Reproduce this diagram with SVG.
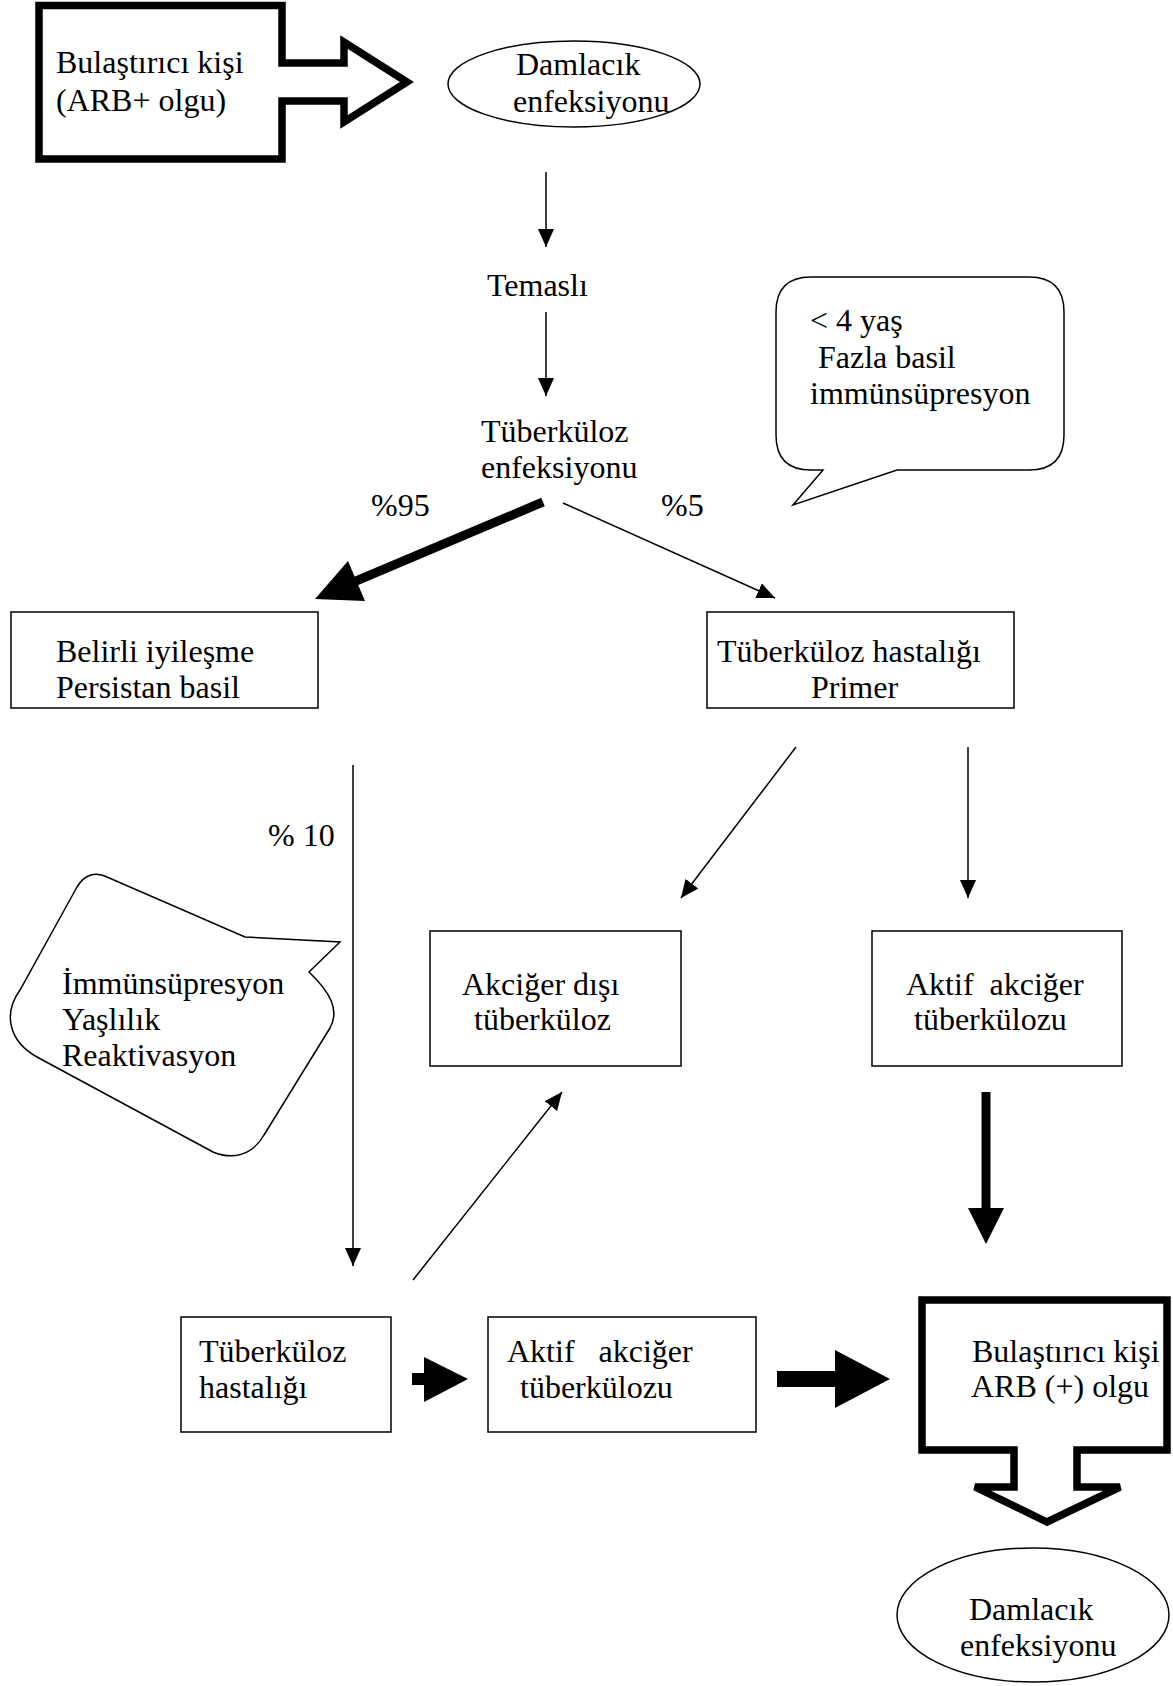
<svg xmlns="http://www.w3.org/2000/svg" width="1173" height="1686" viewBox="0 0 1173 1686">
<style>
text{font-family:"Liberation Serif","Times New Roman",serif;font-size:32px;fill:#000;white-space:pre}
.box{fill:#fff;stroke:#000;stroke-width:1.5}
.thick{fill:#fff;stroke:#000;stroke-width:7.5;stroke-linejoin:miter}
.ln{stroke:#000;stroke-width:1.5;fill:none}
.blk{fill:#000;stroke:none}
</style>
<defs>
<marker id="ah" markerWidth="18" markerHeight="16" refX="18" refY="8" orient="auto" markerUnits="userSpaceOnUse"><path d="M0,0 L18,8 L0,16 Z" fill="#000"/></marker>
</defs>
<rect width="1173" height="1686" fill="#fff"/>

<g id="n-bulastirici-top">
<path class="thick" d="M39,5.5 H282 V63 H344 V42 L407,82 L344,122 V101 H282 V159 H39 Z"/>
<text x="56" y="73">Bulaştırıcı kişi</text>
<text x="56" y="111">(ARB+ olgu)</text>
</g>

<g id="n-damlacik-top">
<ellipse class="box" cx="574" cy="84" rx="126" ry="43"/>
<text x="516" y="75">Damlacık</text>
<text x="513" y="112">enfeksiyonu</text>
</g>

<g id="n-temasli"><text x="487" y="296">Temaslı</text></g>

<g id="n-tb-enfeksiyonu">
<text x="481" y="442">Tüberküloz</text>
<text x="481" y="478">enfeksiyonu</text>
</g>

<g id="n-callout-risk">
<path class="box" d="M811,277 H1029 Q1064,277 1064,312 V435 Q1064,470 1029,470 H897 L793,505 L823,470 H811 Q776,470 776,435 V312 Q776,277 811,277 Z"/>
<text x="810" y="331">&lt; 4 yaş</text>
<text x="818" y="368">Fazla basil</text>
<text x="810" y="404">immünsüpresyon</text>
</g>

<g id="n-belirli">
<rect class="box" x="11" y="612" width="307" height="96"/>
<text x="56" y="662">Belirli iyileşme</text>
<text x="56" y="698">Persistan basil</text>
</g>

<g id="n-tb-primer">
<rect class="box" x="707" y="612" width="307" height="96"/>
<text x="717" y="662">Tüberküloz hastalığı</text>
<text x="811" y="698">Primer</text>
</g>

<g id="n-callout-reakt">
<path class="box" d="M107,877 L245,937 L340,942 L309,972 C330,992 340,1010 330,1028 L264,1135 C252,1156 232,1160 213,1152 L37,1057 C10,1042 2,1015 20,990 L77,887 C84,875 95,871 107,877 Z"/>
<text x="62" y="994">İmmünsüpresyon</text>
<text x="62" y="1030">Yaşlılık</text>
<text x="62" y="1066">Reaktivasyon</text>
</g>

<g id="n-akciger-disi">
<rect class="box" x="430" y="931" width="251" height="135"/>
<text x="462" y="995">Akciğer dışı</text>
<text x="474" y="1030">tüberküloz</text>
</g>

<g id="n-aktif-right">
<rect class="box" x="872" y="931" width="250" height="135"/>
<text x="906" y="995">Aktif  akciğer</text>
<text x="914" y="1030">tüberkülozu</text>
</g>

<g id="n-tb-hastaligi">
<rect class="box" x="181" y="1317" width="210" height="115"/>
<text x="199" y="1362">Tüberküloz</text>
<text x="199" y="1398">hastalığı</text>
</g>

<g id="n-aktif-bottom">
<rect class="box" x="488" y="1317" width="268" height="115"/>
<text x="507" y="1362">Aktif   akciğer</text>
<text x="520" y="1398">tüberkülozu</text>
</g>

<g id="n-bulastirici-bottom">
<path class="thick" d="M922,1300 H1167 V1450 H1077 V1487 H1120 L1047,1522 L975,1487 H1014 V1450 H922 Z"/>
<text x="972" y="1362">Bulaştırıcı kişi</text>
<text x="971" y="1397">ARB (+) olgu</text>
</g>

<g id="n-damlacik-bottom">
<ellipse class="box" cx="1033" cy="1615" rx="136" ry="67"/>
<text x="969" y="1620">Damlacık</text>
<text x="960" y="1656">enfeksiyonu</text>
</g>

<g id="connectors">
<line class="ln" x1="546" y1="172" x2="546" y2="247" marker-end="url(#ah)"/>
<line class="ln" x1="546" y1="312" x2="546" y2="396" marker-end="url(#ah)"/>
<line x1="543" y1="502" x2="356" y2="581" stroke="#000" stroke-width="9"/>
<polygon class="blk" points="315,599 365,601 348,561"/>
<line class="ln" x1="563" y1="503" x2="775" y2="598" marker-end="url(#ah)"/>
<line class="ln" x1="796" y1="747" x2="681" y2="898" marker-end="url(#ah)"/>
<line class="ln" x1="968" y1="747" x2="968" y2="898" marker-end="url(#ah)"/>
<line class="ln" x1="353" y1="765" x2="353" y2="1266" marker-end="url(#ah)"/>
<line class="ln" x1="413" y1="1280" x2="562" y2="1092" marker-end="url(#ah)"/>
<line x1="986" y1="1092" x2="986" y2="1210" stroke="#000" stroke-width="9"/>
<polygon class="blk" points="968,1208 1004,1208 986,1244"/>
<polygon class="blk" points="412,1373 424,1373 424,1357 468,1379 424,1402 424,1385 412,1385"/>
<polygon class="blk" points="777,1371 835,1371 835,1350 890,1379 835,1408 835,1387 777,1387"/>
</g>

<g id="labels">
<text x="371" y="516">%95</text>
<text x="661" y="516">%5</text>
<text x="268" y="846">% 10</text>
</g>
</svg>
